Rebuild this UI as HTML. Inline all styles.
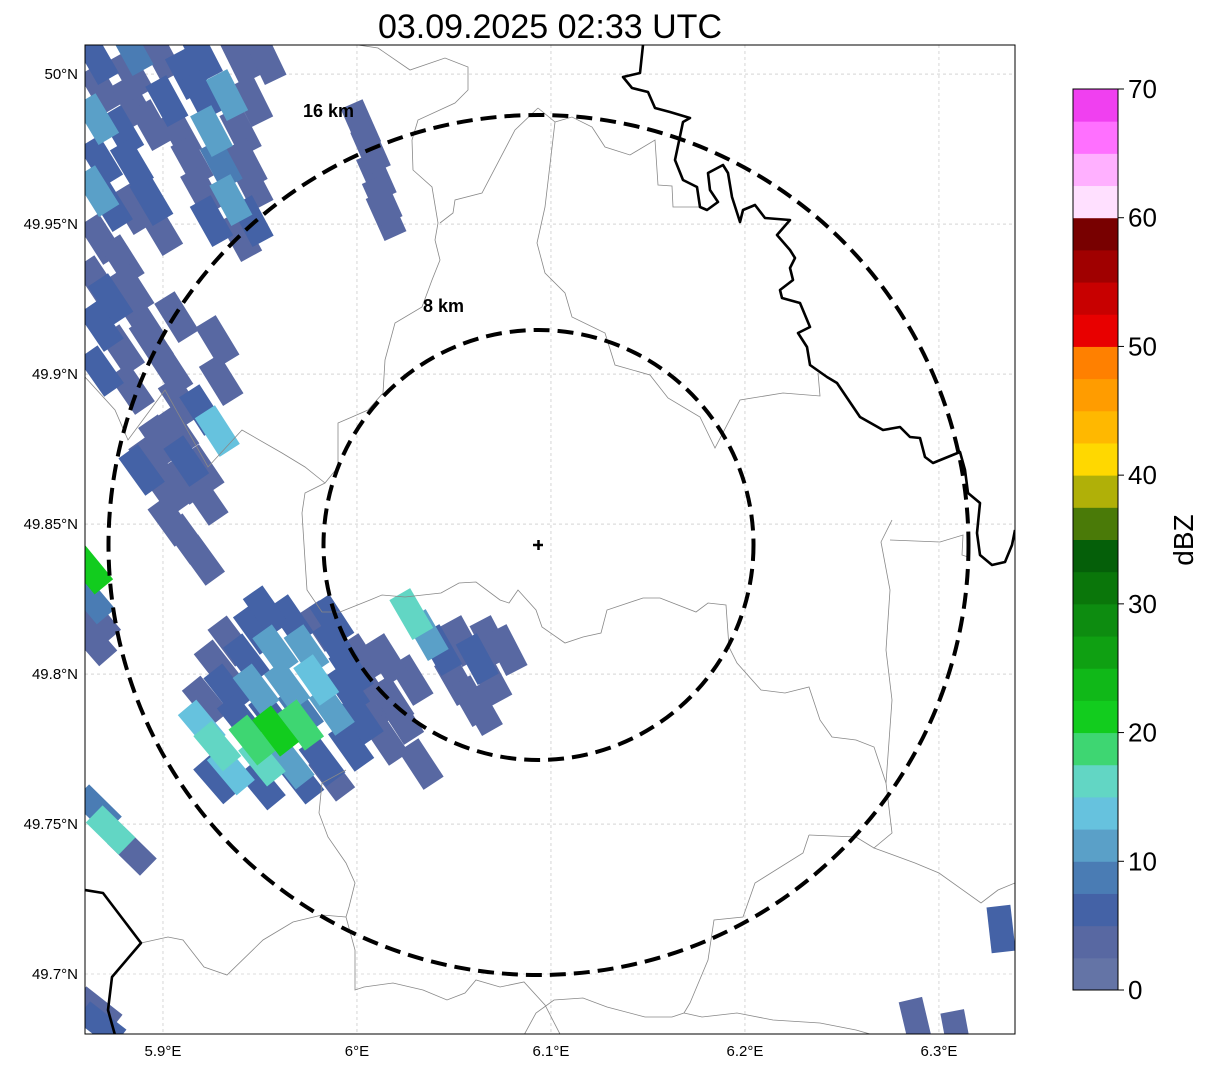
<!DOCTYPE html>
<html><head><meta charset="utf-8"><style>
html,body{margin:0;padding:0;background:#fff;}
svg{display:block;font-family:"Liberation Sans",sans-serif;}
</style></head><body>
<svg id="chart" width="1207" height="1069" viewBox="0 0 1207 1069" xmlns="http://www.w3.org/2000/svg">
<defs><clipPath id="plotclip"><rect x="85" y="45" width="930" height="989"/></clipPath></defs>
<rect width="1207" height="1069" fill="#fff"/>
<text x="550" y="38" font-size="34" text-anchor="middle">03.09.2025 02:33 UTC</text>
<g id="grid"></g>
<g id="echoes" clip-path="url(#plotclip)"></g>
<g clip-path="url(#plotclip)" fill="none" stroke="#888" stroke-width="0.8">
<polyline points="358,45 378,48 410,70 445,58 468,67 468,90 455,103 418,120 412,140 413,170 432,187 438,223 435,240 440,260 432,280 422,307 395,323 385,360 383,393 368,410 352,417 338,423 338,467 325,483 305,493 302,513 305,560 307,590 322,612 340,612 370,600 382,595 405,597 441,593 459,583 476,582 500,600 509,603 518,590 536,610 542,627 565,643 583,637 601,633 607,610 643,598 660,598 696,612 708,603 726,605 729,647 737,663 761,690 785,693 809,687 820,720 832,737 856,740 874,747 886,783 892,833 874,848 915,863 939,873 981,903 998,890 1015,883"/>
<polyline points="538,108 515,130 482,193 455,200 453,213 440,223"/>
<polyline points="538,108 555,122 545,207 537,243 545,273 565,293 572,317 605,333 615,365 650,375 668,398 700,417 715,448 740,400 783,393 820,396 818,373"/>
<polyline points="555,122 572,117 592,127 605,147 630,155 655,140 658,185 672,186 673,207 700,207"/>
<polyline points="85,377 115,410 128,440 165,390 208,467 242,430 282,453 305,467 325,483"/>
<polyline points="892,520 881,542 890,590 886,650 892,700 886,783"/>
<polyline points="890,540 940,542 963,535 962,555 968,557"/>
<polyline points="809,835 856,837 874,848"/>
<polyline points="809,835 803,853 755,883 743,917 714,920 708,960 690,1003 684,1013 702,1017 737,1013 773,1020 820,1023 856,1030 870,1034"/>
<polyline points="684,1013 672,1017 645,1017 607,1007 583,998 554,1000 536,1013 524,1035"/>
<polyline points="346,770 322,783 319,813 328,837 346,863 355,883 349,907 346,917 355,950 355,990 364,987 393,983 423,990 447,1000 465,993 476,980 500,987 524,982 545,1005 560,1034"/>
<polyline points="346,917 322,915 293,922 263,940 227,975 204,967 183,940 168,937 141,943"/>
</g>
<g clip-path="url(#plotclip)" fill="none" stroke="#000" stroke-width="2.6" stroke-linejoin="round">
<polyline points="643,45 640,73 623,77 632,88 648,92 655,108 670,112 690,118 683,122 675,160 683,180 697,187 700,207 707,210 718,202 710,190 708,173 723,165 728,173 732,197 740,222 743,210 755,205 765,218 790,220 777,235 790,250 795,258 790,268 793,280 780,290 782,298 800,303 810,327 798,333 807,347 810,365 827,377 837,383 860,417 883,430 900,427 910,437 920,438 925,457 933,463 960,452 965,470 968,493 980,503 977,533 980,555 992,565 1005,562 1012,545 1015,530"/>
<polyline points="85,890 103,893 141,943 112,977 108,1010 115,1035"/>
</g>
<g id="rings" fill="none" stroke="#000" stroke-width="4" stroke-dasharray="16,8">
<circle cx="538.5" cy="545" r="430"/>
<circle cx="538.5" cy="545" r="215"/>
</g>
<text x="303" y="117" font-size="18" font-weight="bold">16 km</text>
<text x="423" y="312" font-size="18" font-weight="bold">8 km</text>
<g stroke="#000" stroke-width="2.5"><line x1="533" y1="545" x2="543" y2="545"/><line x1="538.5" y1="540" x2="538.5" y2="550"/></g>
<rect x="85" y="45" width="930" height="989" fill="none" stroke="#000" stroke-width="1"/>
<g id="axes" font-size="15"></g>
<g id="cbar"></g>
<text x="1193" y="540" font-size="28" text-anchor="middle" transform="rotate(-90 1193 540)">dBZ</text>
</svg>
<script>
const lonTicks=[5.9,6.0,6.1,6.2,6.3];
const lonTickLabels=["5.9°E","6°E","6.1°E","6.2°E","6.3°E"];
const latTicks=[50.0,49.95,49.9,49.85,49.8,49.75,49.7];
const latTickLabels=["50°N","49.95°N","49.9°N","49.85°N","49.8°N","49.75°N","49.7°N"];
const cbarTicks=[0,10,20,30,40,50,60,70];
const cbarColors=["#6474a6","#5868a2","#4462a6","#4a7cb4","#5aa0c8","#66c2de","#62d6c4","#3ed672","#12cc1e","#10b818","#0fa012","#0d8c10","#0a760a","#055f09","#4a7a08","#b0b008","#ffd800","#ffb800","#ff9c00","#ff8000","#e80000","#c80000","#a00000","#780000","#ffe0ff","#ffb0ff","#ff70ff","#f040f0"];
const beamLon=6.375, beamLat=49.585;
const cellLon=[5.866,5.884,5.899,5.920,5.940,5.953,5.868,5.884,5.902,5.920,5.933,5.946,5.866,5.879,5.894,5.909,5.925,5.940,5.868,5.884,5.915,5.930,5.943,5.866,5.873,5.920,5.935,5.946,5.925,5.940,5.868,5.879,5.866,5.873,5.868,5.889,5.894,5.868,5.904,5.928,5.930,5.909,5.920,5.928,5.899,5.894,5.912,5.920,5.902,5.904,5.912,5.920,5.912,5.889,5.907,
5.884,5.912,5.894,5.899,5.884,5.879,5.884,5.907,5.922,5.884,5.946,
6.002,6.007,6.010,6.013,6.015,
5.935,5.948,5.966,5.982,5.928,5.943,5.958,5.974,5.989,6.002,5.933,5.948,5.964,5.979,5.995,6.010,6.023,5.940,5.956,5.971,5.987,6.002,6.015,5.920,5.928,5.946,5.958,5.971,5.935,5.951,5.966,5.982,5.997,6.033,5.928,5.951,5.971,5.987,6.018,6.028,6.015,
5.953,5.987,5.997,5.922,
6.028,6.036,6.043,6.054,6.069,6.077,6.062,6.051,6.069,6.059,6.064,
5.862,5.863,5.866,5.864,5.866,5.873,5.884,5.866,5.868,
6.332,6.288,6.309];
const cellLat=[50.005,50.008,50.006,50.006,50.005,50.005,49.995,49.991,49.991,49.993,49.993,49.991,49.985,49.981,49.983,49.980,49.981,49.981,49.971,49.970,49.971,49.970,49.970,49.961,49.956,49.961,49.958,49.963,49.951,49.946,49.945,49.938,49.931,49.925,49.916,49.918,49.911,49.901,49.901,49.911,49.898,49.891,49.888,49.881,49.878,49.871,49.871,49.868,49.861,49.851,49.845,49.838,49.865,49.868,49.919,
50.000,50.000,49.958,49.948,49.955,49.908,49.895,49.881,49.858,49.928,49.951,
49.983,49.975,49.966,49.958,49.953,
49.811,49.815,49.818,49.816,49.803,49.805,49.808,49.808,49.810,49.805,49.795,49.795,49.796,49.798,49.795,49.791,49.785,49.785,49.786,49.788,49.788,49.785,49.778,49.783,49.776,49.778,49.781,49.783,49.768,49.771,49.770,49.771,49.776,49.770,49.765,49.763,49.765,49.766,49.791,49.798,49.805,
49.821,49.818,49.801,49.791,
49.820,49.813,49.808,49.811,49.811,49.808,49.805,49.798,49.798,49.791,49.788,
49.835,49.825,49.818,49.811,49.755,49.748,49.741,49.688,49.683,
49.715,49.684,49.680];
const cellDbz=[5,8,4,5,3,3,3,4,5,6,10,4,12,5,4,3,10,4,6,5,3,8,4,12,5,4,12,3,5,4,3,4,3,5,6,4,4,5,3,3,3,4,6,14,4,3,5,4,4,3,3,3,3,5,4,
4,5,5,4,3,4,3,4,3,4,6,
3,4,3,4,3,
4,5,6,4,4,5,10,12,6,4,5,11,10,13,7,4,4,6,7,9,12,6,4,14,17,19,20,18,13,16,12,7,5,3,5,7,5,4,4,4,4,
6,5,5,4,
15,10,5,4,4,4,6,4,4,4,4,
20,8,4,4,8,15,4,4,5,
5,4,3];

const NS="http://www.w3.org/2000/svg";
const X0=85,X1=1015,Y0=45,Y1=1034,LON0=5.8598,LON1=6.3392,LAT0=49.68,LAT1=50.0097;
function xScale(lon){return X0+(lon-LON0)/(LON1-LON0)*(X1-X0);}
function yScale(lat){return Y0+(LAT1-lat)/(LAT1-LAT0)*(Y1-Y0);}
function cbarY(v){return 990-v/70*901;}
function colorFor(d){return cbarColors[Math.max(0,Math.min(27,Math.floor(d/2.5)))];}
function mk(tag,attrs,parent){const e=document.createElementNS(NS,tag);for(const k in attrs)e.setAttribute(k,attrs[k]);parent.appendChild(e);return e;}

const grid=document.getElementById('grid');
lonTicks.forEach(v=>{const l=mk('line',{x1:xScale(v),x2:xScale(v),y1:Y0,y2:Y1,stroke:'#bbb','stroke-width':0.6,'stroke-dasharray':'3,3'},grid);

});
latTicks.forEach(v=>{const l=mk('line',{x1:X0,x2:X1,y1:yScale(v),y2:yScale(v),stroke:'#bbb','stroke-width':0.6,'stroke-dasharray':'3,3'},grid);

});

const ax=document.getElementById('axes');
lonTicks.forEach((v,i)=>{const t=mk('text',{x:xScale(v),y:1056,'text-anchor':'middle'},ax);t.textContent=lonTickLabels[i];

});
latTicks.forEach((v,i)=>{const t=mk('text',{x:78,y:yScale(v)+5,'text-anchor':'end'},ax);t.textContent=latTickLabels[i];

});

const eg=document.getElementById('echoes');
const bx=1100,by=1800;
const order=cellDbz.map((d,i)=>i).sort((a,b)=>cellDbz[a]-cellDbz[b]);
order.forEach(i=>{
  const x=xScale(cellLon[i]),y=yScale(cellLat[i]);
  const ang=Math.atan2(by-y,bx-x)*180/Math.PI;
  const L=46,W=24;
  const r=mk('rect',{x:x-L/2,y:y-W/2,width:L,height:W,fill:colorFor(cellDbz[i]),transform:`rotate(${ang} ${x} ${y})`},eg);
  
  
});

const cb=document.getElementById('cbar');
cbarColors.forEach((c,i)=>{const r=mk('rect',{x:1073,y:cbarY((i+1)*2.5),width:45,height:901/28+0.5,fill:c},cb);

});
const fr=mk('rect',{x:1073,y:89,width:45,height:901,fill:'none',stroke:'#000','stroke-width':1},cb);


cbarTicks.forEach(v=>{const l=mk('line',{x1:1118,x2:1124,y1:cbarY(v),y2:cbarY(v),stroke:'#000'},cb);


const t=mk('text',{x:1128,y:cbarY(v)+9,'font-size':26},cb);t.textContent=v;

});
</script>
</body></html>
